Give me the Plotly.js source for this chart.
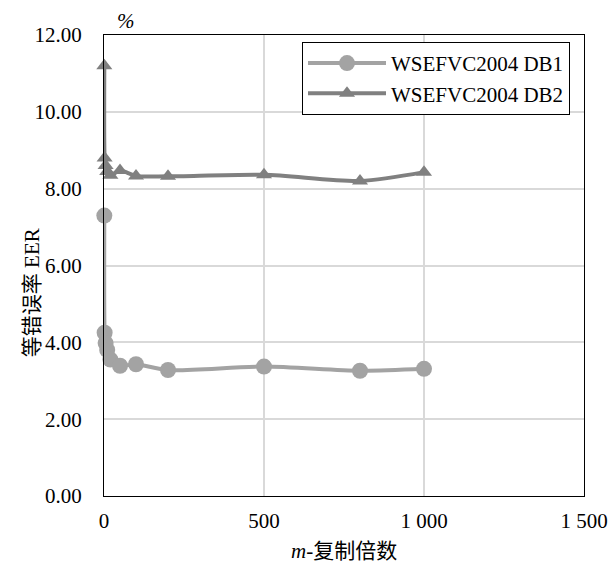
<!DOCTYPE html>
<html>
<head>
<meta charset="utf-8">
<script src="https://cdn.plot.ly/plotly-3.0.1.min.js"></script>
<style>html,body{margin:0;padding:0;background:#fff;}#chart{width:609px;height:566px;}</style>
</head>
<body>
<div id="chart"></div>
<script>
const mValues = [1, 2, 5, 10, 20, 50, 100, 200, 500, 800, 1000];
const db1EER = [7.3, 4.25, 3.98, 3.8, 3.55, 3.39, 3.43, 3.28, 3.37, 3.26, 3.31];
const db2EER = [11.2, 8.8, 8.6, 8.45, 8.35, 8.47, 8.33, 8.32, 8.36, 8.2, 8.43];
const seriesNames = ['WSEFVC2004 DB1', 'WSEFVC2004 DB2'];
const xTicks = [0, 500, 1000, 1500];
const xTickText = ['0', '500', '1 000', '1 500'];
const yTicks = [0, 2, 4, 6, 8, 10, 12];

const serif = 'Liberation Serif, Times New Roman, Noto Sans CJK SC, serif';
const fs = 21;

const traces = [
  {
    x: mValues, y: db1EER, name: seriesNames[0], type: 'scatter', mode: 'lines+markers',
    cliponaxis: false,
    line: {color: '#a3a3a3', width: 4, shape: 'spline', smoothing: 0.8},
    marker: {symbol: 'circle', size: 16, color: '#a3a3a3'}
  },
  {
    x: mValues, y: db2EER, name: seriesNames[1], type: 'scatter', mode: 'lines+markers',
    cliponaxis: false,
    line: {color: '#808080', width: 4, shape: 'spline', smoothing: 0.8},
    marker: {symbol: 'triangle-up', size: 14, color: '#808080'}
  }
];

const layout = {
  width: 609, height: 566,
  margin: {l: 104, r: 25, t: 35, b: 70},
  paper_bgcolor: '#fff', plot_bgcolor: '#fff',
  font: {family: serif, size: fs, color: '#000'},
  showlegend: true,
  legend: {
    x: 0.4125, y: 0.985, xanchor: 'left', yanchor: 'top',
    bordercolor: '#000', borderwidth: 1, bgcolor: '#fff',
    font: {family: serif, size: fs, color: '#000'},
    itemwidth: 78, tracegroupgap: 0
  },
  xaxis: {
    range: [0, 1500], tickvals: xTicks, ticktext: xTickText,
    showgrid: true, gridcolor: '#d9d9d9', gridwidth: 2, zeroline: false,
    showline: true, linecolor: '#000', linewidth: 1, mirror: true,
    ticks: '', ticklabelstandoff: 6,
    tickfont: {family: serif, size: fs, color: '#000'}
  },
  yaxis: {
    range: [0, 12], tickvals: yTicks, tickformat: '.2f',
    showgrid: true, gridcolor: '#d9d9d9', gridwidth: 2, zeroline: false,
    showline: true, linecolor: '#000', linewidth: 1, mirror: true,
    ticks: '', ticklabelstandoff: 17,
    tickfont: {family: serif, size: fs, color: '#000'}
  },
  annotations: [
    {text: '<i>%</i>', xref: 'paper', yref: 'paper', x: 0.045, y: 1.0, xanchor: 'center', yanchor: 'bottom',
     showarrow: false, font: {family: serif, size: fs, color: '#000'}},
    {text: '等错误率 EER', xref: 'paper', yref: 'paper', x: -0.15, y: 0.44, xanchor: 'center', yanchor: 'middle',
     textangle: -90, showarrow: false, font: {family: serif, size: fs, color: '#000'}},
    {text: '<i>m</i>-复制倍数', xref: 'paper', yref: 'paper', x: 0.5, y: -0.12, xanchor: 'center', yanchor: 'middle',
     showarrow: false, font: {family: serif, size: fs, color: '#000'}}
  ]
};

Plotly.newPlot('chart', traces, layout, {displayModeBar: false, staticPlot: true});
</script>
</body>
</html>
